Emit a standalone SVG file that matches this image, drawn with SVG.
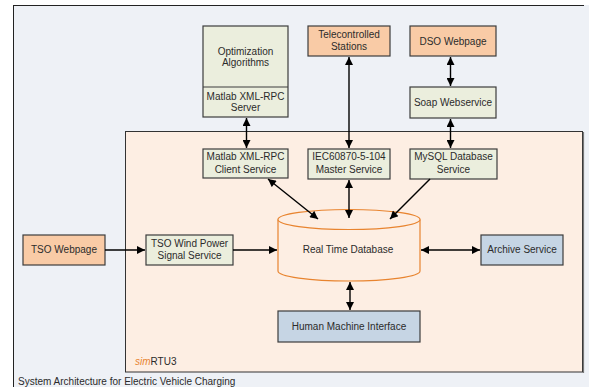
<svg xmlns="http://www.w3.org/2000/svg" width="589" height="387" viewBox="0 0 589 387">
<defs>
<style>
.t{font-family:"Liberation Sans",Arial,sans-serif;font-size:10px;fill:#2b2b2b;text-anchor:middle}
.box{stroke:#3c3c3c;stroke-width:1.2}
.g{fill:#EBEEDD}
.o{fill:#F9CBA6}
.b{fill:#C6D5E4}
.c{stroke:#000;stroke-width:1.4;fill:none}
</style>
<marker id="ah" viewBox="0 0 10 10" refX="10" refY="5" markerWidth="9" markerHeight="8" markerUnits="userSpaceOnUse" orient="auto-start-reverse">
<path d="M0,0L10,5L0,10z" fill="#000"/>
</marker>
</defs>
<rect x="0" y="0" width="589" height="387" fill="#fff"/>
<rect x="13" y="5" width="576" height="382" fill="#EEF1F6"/>
<line x1="13" y1="5.5" x2="584" y2="5.5" stroke="#222" stroke-width="1"/>
<line x1="13.5" y1="5" x2="13.5" y2="387" stroke="#222" stroke-width="1"/>
<text class="t" x="18" y="385" style="text-anchor:start">System Architecture for Electric Vehicle Charging</text>

<g id="simRTU3">
<rect x="125.5" y="131.5" width="457" height="240.5" fill="#FDEEE3" stroke="#333" stroke-width="1"/>
<line x1="583.5" y1="132" x2="583.5" y2="373" stroke="#777" stroke-width="1.2"/>
<text class="t" x="135" y="365" style="text-anchor:start"><tspan fill="#E8842F" font-style="italic">sim</tspan>RTU3</text>
</g>

<g id="optimization">
<rect class="box g" x="203" y="26" width="85" height="91"/>
<line x1="203" y1="87" x2="288" y2="87" stroke="#3c3c3c" stroke-width="1"/>
<text class="t" x="245.5" y="54.5">Optimization</text>
<text class="t" x="245.5" y="66">Algorithms</text>
<text class="t" x="245.5" y="99.5">Matlab XML-RPC</text>
<text class="t" x="245.5" y="111">Server</text>
</g>

<g id="telecontrolled">
<rect class="box o" x="308" y="26" width="82" height="30"/>
<text class="t" x="349" y="37.5">Telecontrolled</text>
<text class="t" x="349" y="49.5">Stations</text>
</g>

<g id="dso">
<rect class="box o" x="410" y="26" width="86" height="30"/>
<text class="t" x="453" y="44.5">DSO Webpage</text>
</g>

<g id="soap">
<rect class="box g" x="410" y="87" width="86" height="31"/>
<text class="t" x="453" y="105.5">Soap Webservice</text>
</g>

<g id="matlabClient">
<rect class="box g" x="203" y="149" width="85" height="29"/>
<text class="t" x="245.5" y="160">Matlab XML-RPC</text>
<text class="t" x="245.5" y="172.5">Client Service</text>
</g>

<g id="iec">
<rect class="box g" x="308" y="149" width="82" height="30"/>
<text class="t" x="349" y="160">IEC60870-5-104</text>
<text class="t" x="349" y="172.5">Master Service</text>
</g>

<g id="mysql">
<rect class="box g" x="410" y="149" width="87" height="30"/>
<text class="t" x="453.5" y="160">MySQL Database</text>
<text class="t" x="453.5" y="172.5">Service</text>
</g>

<g id="tsoWeb">
<rect class="box o" x="23" y="235" width="82" height="30"/>
<text class="t" x="64" y="253">TSO Webpage</text>
</g>

<g id="tsoWind">
<rect class="box g" x="146" y="235" width="87" height="30"/>
<text class="t" x="189.5" y="246.5">TSO Wind Power</text>
<text class="t" x="189.5" y="258.5">Signal Service</text>
</g>

<g id="rtdb">
<path d="M278,219.5 L278,271 A71,10 0 0 0 420,271 L420,219.5" fill="#FDEEE3" stroke="#E8842F" stroke-width="1.2"/>
<ellipse cx="349" cy="219.5" rx="71" ry="10" fill="#FDEEE3" stroke="#E8842F" stroke-width="1.2"/>
<text class="t" x="348" y="253">Real Time Database</text>
</g>

<g id="archive">
<rect class="box b" x="481" y="235" width="82" height="30"/>
<text class="t" x="522" y="253">Archive Service</text>
</g>

<g id="hmi">
<rect class="box b" x="278" y="311" width="142" height="31"/>
<text class="t" x="349" y="330">Human Machine Interface</text>
</g>

<g id="connectors">
<line class="c" x1="246.5" y1="118" x2="246.5" y2="148" marker-start="url(#ah)" marker-end="url(#ah)"/>
<line class="c" x1="349" y1="57" x2="349" y2="148" marker-start="url(#ah)" marker-end="url(#ah)"/>
<line class="c" x1="450.5" y1="57" x2="450.5" y2="86" marker-start="url(#ah)" marker-end="url(#ah)"/>
<line class="c" x1="450.5" y1="119" x2="450.5" y2="148" marker-start="url(#ah)" marker-end="url(#ah)"/>
<line class="c" x1="268" y1="179" x2="318" y2="219" marker-start="url(#ah)" marker-end="url(#ah)"/>
<line class="c" x1="349" y1="180" x2="349" y2="218" marker-start="url(#ah)" marker-end="url(#ah)"/>
<line class="c" x1="430" y1="179" x2="390" y2="219" marker-end="url(#ah)"/>
<line class="c" x1="105" y1="250" x2="145" y2="250" marker-end="url(#ah)"/>
<line class="c" x1="233" y1="250" x2="277" y2="250" marker-end="url(#ah)"/>
<line class="c" x1="421" y1="250" x2="480" y2="250" marker-start="url(#ah)" marker-end="url(#ah)"/>
<line class="c" x1="350" y1="282" x2="350" y2="310" marker-start="url(#ah)" marker-end="url(#ah)"/>
</g>
</svg>
